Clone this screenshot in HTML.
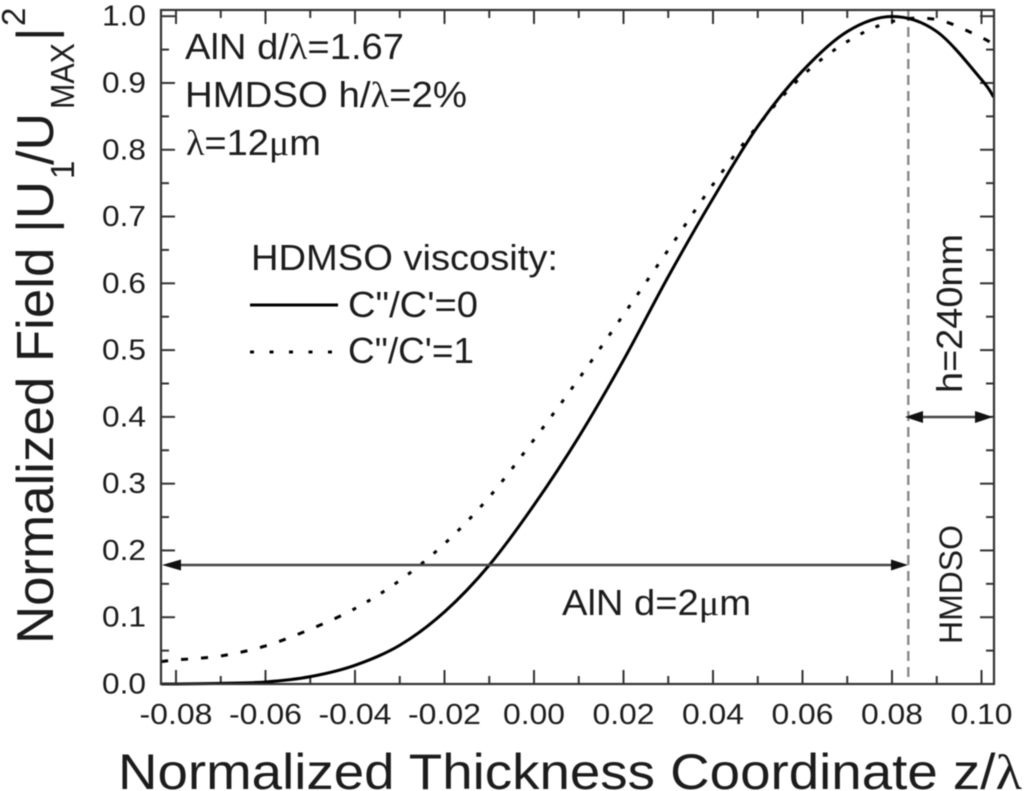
<!DOCTYPE html>
<html>
<head>
<meta charset="utf-8">
<title>Normalized Field vs Thickness Coordinate</title>
<style>
html,body{margin:0;padding:0;background:#fff;width:1024px;height:791px;overflow:hidden}
svg{display:block;filter:blur(0.6px)}
text{font-family:"Liberation Sans",sans-serif;fill:#1c1c1c}
.g{font-family:"Liberation Serif",serif}
</style>
</head>
<body>
<svg id="chart" xmlns="http://www.w3.org/2000/svg" width="1024" height="791" viewBox="0 0 1024 791">
  <rect x="0" y="0" width="1024" height="791" fill="#fff"/>
  <g id="ticks"></g>
  <g id="tick-labels"></g>
  <line x1="908.3" y1="11" x2="908.3" y2="684" stroke="#8a8a8a" stroke-width="2.4" stroke-dasharray="10 6"/>
  <g id="series"></g>
  <rect x="161" y="10" width="833" height="674" fill="none" stroke="#333" stroke-width="2.2"/>

  <g>
    <line x1="170" y1="565" x2="900" y2="565" stroke="#444" stroke-width="2.4"/>
    <polygon points="162,565 181,559.5 181,570.5" fill="#111"/>
    <polygon points="908,565 891,559.5 891,570.5" fill="#111"/>
  </g>
  <g>
    <line x1="912" y1="417" x2="986" y2="417" stroke="#444" stroke-width="2.4"/>
    <polygon points="905,417 923,411 923,423" fill="#111"/>
    <polygon points="993,417 975,411 975,423" fill="#111"/>
  </g>

  <text x="185" y="59" font-size="36" textLength="219" lengthAdjust="spacingAndGlyphs">AlN d/<tspan class="g">λ</tspan>=1.67</text>
  <text x="185" y="107" font-size="36" textLength="282" lengthAdjust="spacingAndGlyphs">HMDSO h/<tspan class="g">λ</tspan>=2%</text>
  <text x="186" y="155" font-size="36" textLength="135" lengthAdjust="spacingAndGlyphs"><tspan class="g">λ</tspan>=12<tspan class="g">μ</tspan>m</text>

  <g>
    <text x="251" y="270" font-size="36" textLength="307" lengthAdjust="spacingAndGlyphs">HDMSO viscosity:</text>
    <line x1="250" y1="305" x2="338" y2="305" stroke="#000" stroke-width="3"/>
    <text x="348" y="317" font-size="36" textLength="130" lengthAdjust="spacingAndGlyphs">C"/C'=0</text>
    <line x1="250" y1="352" x2="332" y2="352" stroke="#000" stroke-width="3" stroke-dasharray="4 15.5"/>
    <text x="348" y="363" font-size="36" textLength="126" lengthAdjust="spacingAndGlyphs">C"/C'=1</text>
  </g>

  <text x="562" y="615" font-size="36" textLength="189" lengthAdjust="spacingAndGlyphs">AlN d=2<tspan class="g">μ</tspan>m</text>
  <text transform="translate(962,393) rotate(-90)" font-size="36" textLength="159" lengthAdjust="spacingAndGlyphs">h=240nm</text>
  <text transform="translate(962,644) rotate(-90)" font-size="32" textLength="119" lengthAdjust="spacingAndGlyphs">HMDSO</text>

  <text x="118" y="789" font-size="50" textLength="904" lengthAdjust="spacingAndGlyphs">Normalized Thickness Coordinate z/<tspan class="g">λ</tspan></text>

  <g>
    <text transform="translate(53,644) rotate(-90)" font-size="52" textLength="463" lengthAdjust="spacingAndGlyphs">Normalized Field |U</text>
    <text transform="translate(74,179) rotate(-90)" font-size="33">1</text>
    <text transform="translate(53,165) rotate(-90)" font-size="52">/U</text>
    <text transform="translate(74,109) rotate(-90)" font-size="33" textLength="66" lengthAdjust="spacingAndGlyphs">MAX</text>
    <text transform="translate(53,41) rotate(-90)" font-size="52">|</text>
    <text transform="translate(25,26) rotate(-90)" font-size="33">2</text>
  </g>
</svg>
<script>
const xCoords = [-0.0833,-0.08,-0.07,-0.06,-0.05,-0.04,-0.03,-0.02,-0.01,0,0.01,0.02,0.03,0.04,0.05,0.06,0.07,0.08,0.09,0.10,0.1027];
const solidValues = [0,0,0.001,0.003,0.011,0.028,0.058,0.108,0.178,0.268,0.370,0.485,0.610,0.727,0.835,0.918,0.977,0.9995,0.977,0.905,0.879];
const dottedValues = [0.0335,0.036,0.042,0.057,0.082,0.113,0.155,0.210,0.280,0.366,0.457,0.553,0.650,0.748,0.836,0.911,0.962,0.992,0.995,0.968,0.957];
const xTickLabels = ['-0.08','-0.06','-0.04','-0.02','0.00','0.02','0.04','0.06','0.08','0.10'];
const yTickLabels = ['0.0','0.1','0.2','0.3','0.4','0.5','0.6','0.7','0.8','0.9','1.0'];
const xMinorTicks = [-0.07,-0.05,-0.03,-0.01,0.01,0.03,0.05,0.07,0.09];
const yMinorTicks = [0.05,0.15,0.25,0.35,0.45,0.55,0.65,0.75,0.85,0.95];

const NS = 'http://www.w3.org/2000/svg';
function xScale(v){ return 176 + (v + 0.08) * 4475; }
function yScale(v){ return 684 - v * 667.8; }

function drawLine(parent, x1, y1, x2, y2){
  const l = document.createElementNS(NS, 'line');
  
  
  l.setAttribute('x1', x1);
  l.setAttribute('y1', y1);
  l.setAttribute('x2', x2);
  l.setAttribute('y2', y2);
  l.setAttribute('stroke', '#333');
  l.setAttribute('stroke-width', '2');
  parent.appendChild(l);
}

const tickGroup = document.getElementById('ticks');
function xTick(v, len){
  const x = xScale(v);
  drawLine(tickGroup, x, 684, x, 684 - len);
  drawLine(tickGroup, x, 10, x, 10 + len);
}
function yTick(v, len){
  const y = yScale(v);
  drawLine(tickGroup, 161, y, 161 + len, y);
  drawLine(tickGroup, 994, y, 994 - len, y);
}
xTickLabels.forEach(function(t){ xTick(parseFloat(t), 14); });
yTickLabels.forEach(function(t){ yTick(parseFloat(t), 14); });
xMinorTicks.forEach(function(v){ xTick(v, 8); });
yMinorTicks.forEach(function(v){ yTick(v, 8); });

const labelGroup = document.getElementById('tick-labels');
xTickLabels.forEach(function(t){
  const el = document.createElementNS(NS, 'text');
  
  
  const w = t.charAt(0) === '-' ? 73 : 62;
  el.setAttribute('x', xScale(parseFloat(t)) - w / 2);
  el.setAttribute('y', 724);
  el.setAttribute('font-size', '29');
  el.setAttribute('textLength', w);
  el.setAttribute('lengthAdjust', 'spacingAndGlyphs');
  el.textContent = t;
  labelGroup.appendChild(el);
});
yTickLabels.forEach(function(t){
  const el = document.createElementNS(NS, 'text');
  
  
  el.setAttribute('x', 102);
  el.setAttribute('y', yScale(parseFloat(t)) + 9.5);
  el.setAttribute('font-size', '29');
  el.setAttribute('textLength', 44);
  el.setAttribute('lengthAdjust', 'spacingAndGlyphs');
  el.textContent = t;
  labelGroup.appendChild(el);
});

function smoothPath(xs, ys){
  const p = xs.map(function(v, i){ return [xScale(v), yScale(ys[i])]; });
  let d = 'M' + p[0][0].toFixed(2) + ' ' + p[0][1].toFixed(2);
  for (let i = 0; i < p.length - 1; i++){
    const a = p[Math.max(i - 1, 0)], b = p[i], c = p[i + 1], e = p[Math.min(i + 2, p.length - 1)];
    const c1x = b[0] + (c[0] - a[0]) / 6, c1y = b[1] + (c[1] - a[1]) / 6;
    const c2x = c[0] - (e[0] - b[0]) / 6, c2y = c[1] - (e[1] - b[1]) / 6;
    d += 'C' + c1x.toFixed(2) + ' ' + c1y.toFixed(2) + ' ' + c2x.toFixed(2) + ' ' + c2y.toFixed(2) + ' ' + c[0].toFixed(2) + ' ' + c[1].toFixed(2);
  }
  return d;
}

const seriesGroup = document.getElementById('series');
const solidPath = document.createElementNS(NS, 'path');


solidPath.setAttribute('d', smoothPath(xCoords, solidValues));
solidPath.setAttribute('fill', 'none');
solidPath.setAttribute('stroke', '#000');
solidPath.setAttribute('stroke-width', '3');
seriesGroup.appendChild(solidPath);

const dottedPath = document.createElementNS(NS, 'path');


dottedPath.setAttribute('d', smoothPath(xCoords, dottedValues));
dottedPath.setAttribute('fill', 'none');
dottedPath.setAttribute('stroke', '#000');
dottedPath.setAttribute('stroke-width', '3');
seriesGroup.appendChild(dottedPath);

const totalLength = dottedPath.getTotalLength();
const dashPattern = [];
let travelled = 0;
while (travelled < totalLength) {
  const isDash = travelled < 190 || travelled > totalLength - 95;
  const on = isDash ? 7 : 4;
  const off = isDash ? 13 : 12.5;
  dashPattern.push(on, off);
  travelled += on + off;
}
dottedPath.setAttribute('stroke-dasharray', dashPattern.join(' '));
</script>
</body>
</html>
